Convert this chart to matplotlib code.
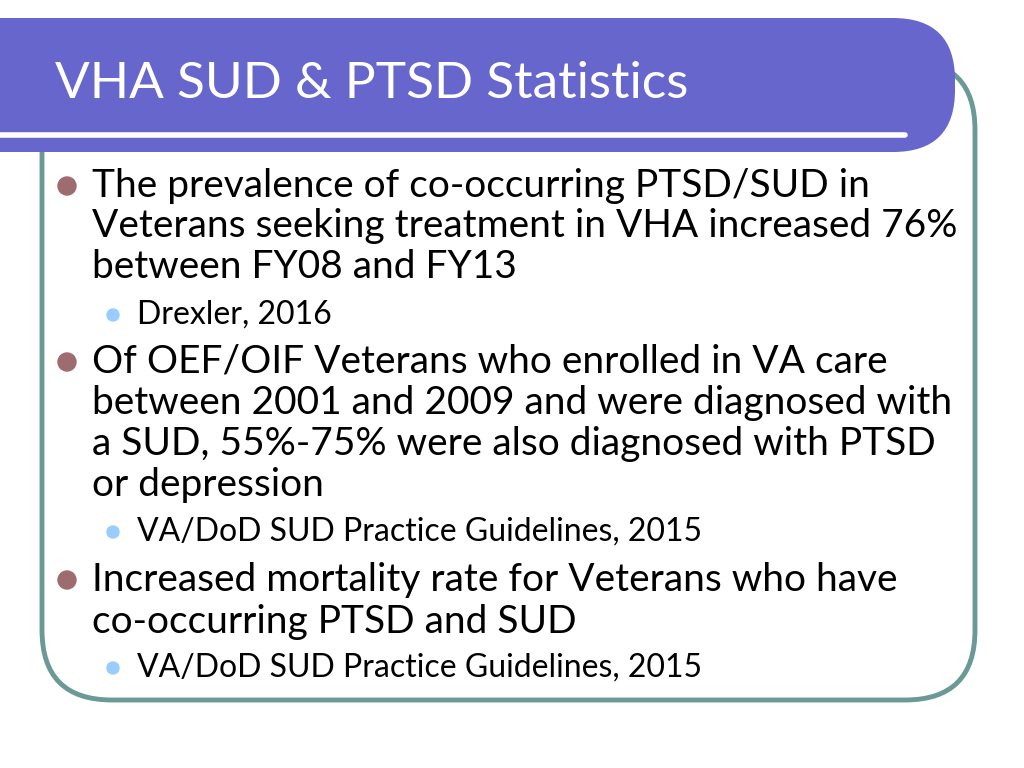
import matplotlib.pyplot as plt
from matplotlib.patches import FancyBboxPatch, Circle

title = "VHA SUD & PTSD Statistics"
# (level, text) ; level 1 = main bullet, 2 = sub bullet, 0 = continuation line
lines = [
    (1, "The prevalence of co-occurring PTSD/SUD in"),
    (0, "Veterans seeking treatment in VHA increased 76%"),
    (0, "between FY08 and FY13"),
    (2, "Drexler, 2016"),
    (1, "Of OEF/OIF Veterans who enrolled in VA care"),
    (0, "between 2001 and 2009 and were diagnosed with"),
    (0, "a SUD, 55%-75% were also diagnosed with PTSD"),
    (0, "or depression"),
    (2, "VA/DoD SUD Practice Guidelines, 2015"),
    (1, "Increased mortality rate for Veterans who have"),
    (0, "co-occurring PTSD and SUD"),
    (2, "VA/DoD SUD Practice Guidelines, 2015"),
]
line_y = [186, 226, 267, 315, 362, 403, 444, 485, 532, 580, 622, 668]

plt.rcParams['font.family'] = 'Lato'
fig = plt.figure(figsize=(10.24, 7.68), dpi=100)
ax = fig.add_axes([0, 0, 1, 1])
ax.set_xlim(0, 1024)
ax.set_ylim(768, 0)
ax.axis('off')

# content frame
ax.add_patch(FancyBboxPatch((42, 60), 933, 640, boxstyle="round,pad=0,rounding_size=70",
                            fc='white', ec='#6b9a96', lw=3.5, zorder=1))
# title banner
ax.add_patch(FancyBboxPatch((-100, 18), 1055, 134, boxstyle="round,pad=0,rounding_size=62",
                            fc='#6666cc', ec='none', zorder=2))
ax.plot([0, 905], [135, 135], color='white', lw=4, zorder=3, solid_capstyle='round')
ax.text(55, 84, title, color='white', fontsize=37, va='center', ha='left', zorder=4)

for (level, txt), y in zip(lines, line_y):
    if level == 2:
        ax.add_patch(Circle((113, y), 6, color='#99ccff', zorder=4))
        ax.text(137, y, txt, fontsize=23, va='center', ha='left', color='black', zorder=4)
    else:
        if level == 1:
            ax.add_patch(Circle((67, y), 9, color='#9e6b6e', zorder=4))
        ax.text(92, y, txt, fontsize=28, va='center', ha='left', color='black', zorder=4)

fig.savefig('out.png', dpi=100)
